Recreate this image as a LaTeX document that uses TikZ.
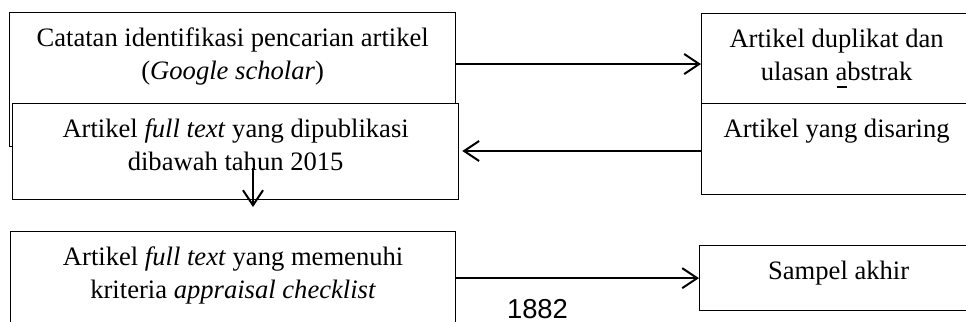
\documentclass[tikz,border=0pt]{standalone}
\usepackage{fontspec}
\setmainfont{Liberation Serif}
\newfontfamily\numfont{Liberation Sans}
\usetikzlibrary{arrows.meta}

\begin{document}
\begin{tikzpicture}
[x=0.5pt, y=-0.5pt, >={Straight Barb[length=7.5pt, width=10pt]},
 box/.style={draw, line width=0.65pt, fill=white, anchor=north west, inner sep=0, text height=17pt, align=flush center, font=\fontsize{13.3pt}{16.5pt}\selectfont},
 link/.style={line width=1pt}]
\useasboundingbox (0,0) rectangle (966,322);
\begin{scope}
\clip (0,0) rectangle (966,322);
\node (search) [box, text width=223pt, text depth=50pt] at (9,12) {Catatan identifikasi pencarian artikel\\(\textit{Google scholar})};
\node (fulltext) [box, text width=223pt, text depth=31pt] at (12,103) {Artikel \textit{full text} yang dipublikasi\\dibawah tahun 2015};
\node (duplikat) [box, text width=135pt, text depth=28pt] at (701,13) {Artikel duplikat dan\\ulasan abstrak};
\node (disaring) [box, text width=135pt, text depth=28.5pt] at (701,103) {Artikel yang disaring};
\node (appraisal) [box, text width=222.5pt, text depth=33pt] at (10,231) {Artikel \textit{full text} yang memenuhi\\kriteria \textit{appraisal checklist}};
\node (sampel) [box, text width=139pt, text depth=15.5pt] at (699,245) {Sampel akhir};
\node (count) [font=\numfont\fontsize{13.7pt}{16pt}\selectfont, anchor=base, inner sep=0] at (537.5,318.5) {1882};
% connectors
\coordinate (sd) at ([yshift=-26pt]search.north east);
\path (sd) edge [->, link] (sd -| duplikat.west);
\coordinate (df) at ([yshift=-24pt]disaring.north west);
\path (df) edge [->, link, shorten >=1.5pt] (df -| fulltext.east);
\coordinate (fa1) at (253,168);
\coordinate (fa2) at (253,207);
\path (fa1) edge [->, link] (fa2);
\coordinate (dd) at (847,87);
\path (dd) edge [link] (dd -| disaring.north);
\path (appraisal.east |- sampel.west) edge [->, link] (sampel.west);
\end{scope}
\end{tikzpicture}
\end{document}
